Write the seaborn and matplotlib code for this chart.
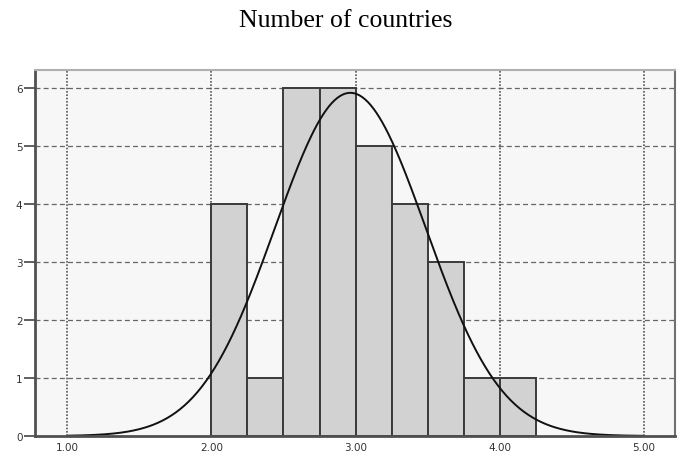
import numpy as np
import pandas as pd
import matplotlib
matplotlib.use("Agg")
import matplotlib.pyplot as plt
import seaborn as sns

# histogram bins (width 0.25) and counts
bin_edges = [2.00, 2.25, 2.50, 2.75, 3.00, 3.25, 3.50, 3.75, 4.00, 4.25]
bin_counts = [4, 1, 6, 6, 5, 4, 3, 1, 1]
x_ticks = [1.0, 2.0, 3.0, 4.0, 5.0]
x_tick_labels = ["1.00", "2.00", "3.00", "4.00", "5.00"]
y_ticks = [0, 1, 2, 3, 4, 5, 6]

mids = [(a + b) / 2 for a, b in zip(bin_edges[:-1], bin_edges[1:])]
df = pd.DataFrame({"value": np.repeat(mids, bin_counts)})

sns.set_style("white")
fig = plt.figure(figsize=(6.84, 4.56), dpi=100)
ax = fig.add_axes([0.0512, 0.0417, 0.9358, 0.8026])
ax.set_facecolor("#f7f7f7")

# grid first so bars sit on top
for yv in y_ticks[1:]:
    ax.axhline(yv, color="#666666", lw=0.9, ls=(0, (4, 2.5)), zorder=1)
for xv in x_ticks:
    ax.axvline(xv, color="#555555", lw=1.2, ls=(0, (1, 1)), zorder=1)

sns.histplot(data=df, x="value", bins=bin_edges, stat="count",
             color="#d2d2d2", alpha=1, edgecolor="#3a3a3a", linewidth=1.4,
             ax=ax, zorder=2)

# fitted normal curve (SPSS style)
n = len(df)
mu = df["value"].mean()
sd = df["value"].std()
width = bin_edges[1] - bin_edges[0]
xs = np.linspace(1.0, 5.0, 400)
ys = n * width / (sd * np.sqrt(2 * np.pi)) * np.exp(-(xs - mu) ** 2 / (2 * sd ** 2))
sns.lineplot(x=xs, y=ys, color="#111111", lw=1.4, ax=ax, zorder=3)

ax.set_xlim(0.778, 5.215)
ax.set_ylim(0, 6.31)
ax.set_xticks(x_ticks)
ax.set_xticklabels(x_tick_labels)
ax.set_yticks(y_ticks)
ax.tick_params(axis="y", length=8, width=1.2, color="#444444", pad=1,
               labelsize=7.5, labelcolor="#333333", left=True)
ax.tick_params(axis="x", length=0, pad=4, labelsize=7.5, labelcolor="#333333")
ax.set_xlabel("")
ax.set_ylabel("")

ax.spines["left"].set_color("#505050")
ax.spines["left"].set_linewidth(2)
ax.spines["bottom"].set_color("#505050")
ax.spines["bottom"].set_linewidth(2)
ax.spines["top"].set_color("#b0b0b0")
ax.spines["top"].set_linewidth(1.5)
ax.spines["right"].set_color("#707070")
ax.spines["right"].set_linewidth(1.5)
for s in ax.spines.values():
    s.set_zorder(4)

fig.text(0.506, 0.955, "Number of countries", ha="center", va="center",
         fontsize=18.5, family="Liberation Serif", color="black")

fig.savefig("out.png", dpi=100)
